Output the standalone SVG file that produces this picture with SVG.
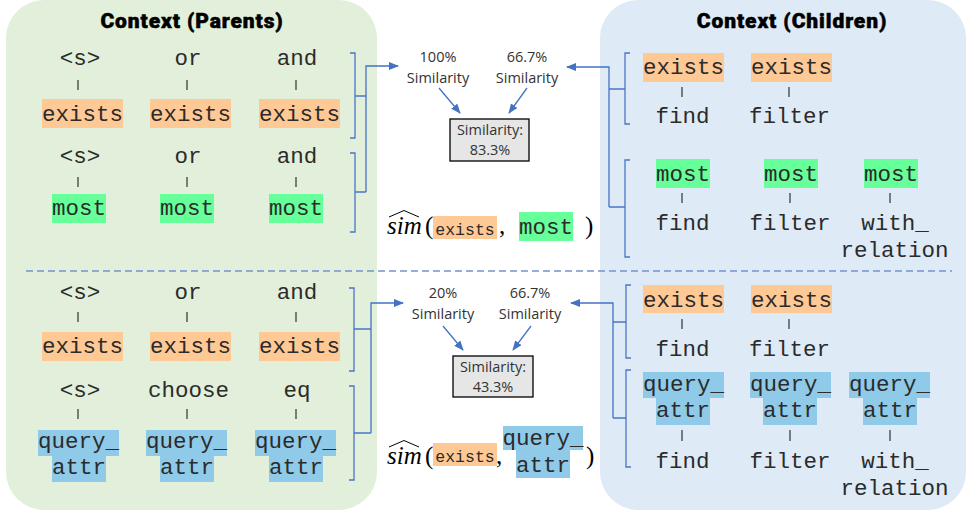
<svg xmlns="http://www.w3.org/2000/svg" width="966" height="513" viewBox="0 0 966 513">
<defs>
<style>
.mono{font-family:"Liberation Mono","Courier New",monospace;font-size:22.5px;fill:#2b2b2b;text-anchor:middle}
.fm{font-size:16.5px}
.sans{font-family:"Open Sans","Liberation Sans",sans-serif;font-size:14.5px;fill:#333;text-anchor:middle}
.title{font-family:Roboto,"Liberation Sans",sans-serif;font-weight:900;font-size:21px;letter-spacing:0.9px;fill:#000;stroke:#000;stroke-width:0.5;text-anchor:middle}
.or{fill:#FFC995}
.gr{fill:#66FF99}
.bl{fill:#8FCAE8}
.tick{stroke:#333;stroke-width:1.2}
.br{fill:none;stroke:#4A76C6;stroke-width:1.3}
.ar{fill:none;stroke:#4472C4;stroke-width:1.3}
.dash{fill:none;stroke:#7393D0;stroke-width:1.5;stroke-dasharray:7 4}
.box{fill:#E6E6E6;stroke:#000;stroke-width:1.3}
.math{font-family:"Liberation Serif","Times New Roman",serif;font-size:25px;fill:#000}
.hat{fill:none;stroke:#000;stroke-width:1}
</style>
<marker id="ah" markerWidth="10" markerHeight="8" refX="9" refY="4" orient="auto" markerUnits="userSpaceOnUse"><path d="M0,0 L10,4 L0,8 z" fill="#4472C4"/></marker>
</defs>

<g id="panel-parents">
<rect x="6" y="0" width="371" height="510" rx="38" fill="#E2EFDA"/>
<text class="title" x="192" y="28">Context (Parents)</text>
</g>
<g id="panel-children">
<rect x="600" y="0" width="366" height="510" rx="38" fill="#DEEAF6"/>
<text class="title" x="792" y="28">Context (Children)</text>
</g>

<g id="connectors">
<path class="dash" d="M26,271 H952"/>
<path class="br" d="M350,53 H355 V138 H350 M355,96 H366 M350,153 H355 V232 H350 M355,192 H366"/>
<path class="ar" d="M366,192 V66 H398" marker-end="url(#ah)"/>
<path class="br" d="M630,53 H625 V124 H630 M609,89 H625 M630,160 H625 V257 H630 M609,207 H625"/>
<path class="ar" d="M609,207 V67 H567" marker-end="url(#ah)"/>
<path class="br" d="M349,288 H354 V371 H349 M354,329 H371 M349,386 H354 V480 H349 M354,433 H371"/>
<path class="ar" d="M371,433 V303 H403" marker-end="url(#ah)"/>
<path class="br" d="M631,285 H626 V358 H631 M613,322 H626 M631,370 H626 V467 H631 M613,418 H626"/>
<path class="ar" d="M613,418 V303 H571" marker-end="url(#ah)"/>
<path class="ar" d="M439,88 L460,113" marker-end="url(#ah)"/>
<path class="ar" d="M527,88 L509,113" marker-end="url(#ah)"/>
<path class="ar" d="M443,326 L463,350" marker-end="url(#ah)"/>
<path class="ar" d="M531,326 L513,350" marker-end="url(#ah)"/>
</g>

<g id="parents-exists-top">
<text class="mono" x="80" y="65">&lt;s&gt;</text>
<text class="mono" x="188" y="65">or</text>
<text class="mono" x="297" y="65">and</text>
<path class="tick" d="M78,80 V90 M187,80 V90 M296,80 V90"/>
<rect class="or" x="42" y="99" width="81" height="29"/>
<rect class="or" x="150" y="99" width="81" height="29"/>
<rect class="or" x="259" y="99" width="81" height="29"/>
<text class="mono" x="82.5" y="121">exists</text>
<text class="mono" x="190.5" y="121">exists</text>
<text class="mono" x="299.5" y="121">exists</text>
</g>
<g id="parents-most">
<text class="mono" x="80" y="163">&lt;s&gt;</text>
<text class="mono" x="188" y="163">or</text>
<text class="mono" x="297" y="163">and</text>
<path class="tick" d="M78,177 V187 M187,177 V187 M296,177 V187"/>
<rect class="gr" x="52" y="194" width="54" height="29"/>
<rect class="gr" x="160" y="194" width="54" height="29"/>
<rect class="gr" x="269" y="194" width="54" height="29"/>
<text class="mono" x="79" y="215">most</text>
<text class="mono" x="187" y="215">most</text>
<text class="mono" x="296" y="215">most</text>
</g>

<g id="children-exists-top">
<rect class="or" x="643" y="53" width="81" height="29"/>
<rect class="or" x="751" y="53" width="81" height="29"/>
<text class="mono" x="683.5" y="74">exists</text>
<text class="mono" x="791.5" y="74">exists</text>
<path class="tick" d="M682,87 V97 M789,87 V97"/>
<text class="mono" x="682.5" y="123">find</text>
<text class="mono" x="789.5" y="123">filter</text>
</g>
<g id="children-most">
<rect class="gr" x="656" y="159" width="54" height="29"/>
<rect class="gr" x="764" y="159" width="54" height="29"/>
<rect class="gr" x="864" y="159" width="54" height="29"/>
<text class="mono" x="683" y="181">most</text>
<text class="mono" x="791" y="181">most</text>
<text class="mono" x="891" y="181">most</text>
<path class="tick" d="M682,193 V203 M790,193 V203 M890,193 V203"/>
<text class="mono" x="682.5" y="230">find</text>
<text class="mono" x="790" y="230">filter</text>
<text class="mono" x="895" y="230">with_</text>
<text class="mono" x="894.5" y="257">relation</text>
</g>

<g id="similarity-top">
<text class="sans" x="438" y="62">100%</text>
<text class="sans" x="438" y="83">Similarity</text>
<text class="sans" x="527" y="62">66.7%</text>
<text class="sans" x="527" y="83">Similarity</text>
<rect class="box" x="450" y="119" width="79" height="42"/>
<text class="sans" x="490" y="135">Similarity:</text>
<text class="sans" x="490" y="155">83.3%</text>
</g>
<g id="formula-top">
<text class="math" x="387" y="234" font-style="italic">sim</text>
<text class="math" x="425" y="234">(</text>
<path class="hat" d="M389,217 L404,210.5 L419,217"/>
<rect class="or" x="433" y="216" width="64" height="23"/>
<text class="mono fm" x="465" y="235">exists</text>
<text class="math" x="499" y="234">,</text>
<rect class="gr" x="519" y="212" width="54" height="29"/>
<text class="mono" x="546" y="234">most</text>
<text class="math" x="585" y="234">)</text>
</g>

<g id="parents-exists-bottom">
<text class="mono" x="80" y="299">&lt;s&gt;</text>
<text class="mono" x="188" y="299">or</text>
<text class="mono" x="297" y="299">and</text>
<path class="tick" d="M78,312 V322 M187,312 V322 M296,312 V322"/>
<rect class="or" x="42" y="332" width="81" height="29"/>
<rect class="or" x="150" y="332" width="81" height="29"/>
<rect class="or" x="259" y="332" width="81" height="29"/>
<text class="mono" x="82.5" y="353">exists</text>
<text class="mono" x="190.5" y="353">exists</text>
<text class="mono" x="299.5" y="353">exists</text>
</g>
<g id="parents-query-attr">
<text class="mono" x="80" y="397">&lt;s&gt;</text>
<text class="mono" x="188.5" y="397">choose</text>
<text class="mono" x="297" y="397">eq</text>
<path class="tick" d="M78,409 V419 M187,409 V419 M296,409 V419"/>
<rect class="bl" x="38" y="430" width="81" height="26"/>
<rect class="bl" x="52" y="456" width="54" height="26"/>
<rect class="bl" x="146" y="430" width="81" height="26"/>
<rect class="bl" x="160" y="456" width="54" height="26"/>
<rect class="bl" x="255" y="430" width="81" height="26"/>
<rect class="bl" x="269" y="456" width="54" height="26"/>
<text class="mono" x="78.5" y="448">query_</text>
<text class="mono" x="79" y="474">attr</text>
<text class="mono" x="186.5" y="448">query_</text>
<text class="mono" x="187" y="474">attr</text>
<text class="mono" x="295.5" y="448">query_</text>
<text class="mono" x="296" y="474">attr</text>
</g>

<g id="children-exists-bottom">
<rect class="or" x="643" y="285" width="81" height="28"/>
<rect class="or" x="751" y="285" width="81" height="28"/>
<text class="mono" x="683.5" y="307">exists</text>
<text class="mono" x="791.5" y="307">exists</text>
<path class="tick" d="M682,319 V329 M789,319 V329"/>
<text class="mono" x="682.5" y="356">find</text>
<text class="mono" x="789.5" y="356">filter</text>
</g>
<g id="children-query-attr">
<rect class="bl" x="643" y="372" width="81" height="26"/>
<rect class="bl" x="656" y="398" width="54" height="27"/>
<rect class="bl" x="750" y="372" width="81" height="26"/>
<rect class="bl" x="763" y="398" width="54" height="27"/>
<rect class="bl" x="849" y="372" width="81" height="26"/>
<rect class="bl" x="863" y="398" width="54" height="27"/>
<text class="mono" x="683.5" y="391">query_</text>
<text class="mono" x="683" y="417">attr</text>
<text class="mono" x="790.5" y="391">query_</text>
<text class="mono" x="790" y="417">attr</text>
<text class="mono" x="889.5" y="391">query_</text>
<text class="mono" x="890" y="417">attr</text>
<path class="tick" d="M682,430 V441 M790,430 V441 M890,430 V441"/>
<text class="mono" x="682.5" y="468">find</text>
<text class="mono" x="790" y="468">filter</text>
<text class="mono" x="895" y="468">with_</text>
<text class="mono" x="894.5" y="495">relation</text>
</g>

<g id="similarity-bottom">
<text class="sans" x="443" y="298">20%</text>
<text class="sans" x="443" y="319">Similarity</text>
<text class="sans" x="530" y="298">66.7%</text>
<text class="sans" x="530" y="319">Similarity</text>
<rect class="box" x="453" y="356" width="80" height="41"/>
<text class="sans" x="493" y="372">Similarity:</text>
<text class="sans" x="493" y="392">43.3%</text>
</g>
<g id="formula-bottom">
<text class="math" x="387" y="464" font-style="italic">sim</text>
<text class="math" x="425" y="464">(</text>
<path class="hat" d="M389,447 L404,440.5 L419,447"/>
<rect class="or" x="433" y="443" width="64" height="23"/>
<text class="mono fm" x="465" y="462">exists</text>
<text class="math" x="496" y="464">,</text>
<rect class="bl" x="503" y="426" width="80" height="24"/>
<rect class="bl" x="516" y="450" width="54" height="28"/>
<text class="mono" x="543" y="445">query_</text>
<text class="mono" x="543" y="472">attr</text>
<text class="math" x="586" y="464">)</text>
</g>
</svg>
